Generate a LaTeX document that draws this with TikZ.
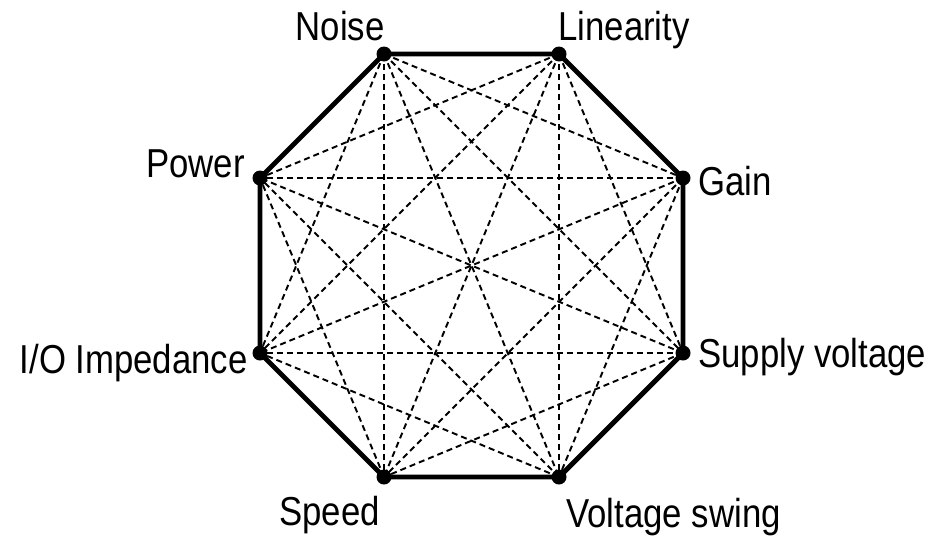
\documentclass[tikz,border=0pt]{standalone}
\usepackage{fontspec}
\newfontfamily\lblfont[FakeStretch=0.86]{Liberation Sans}
\usepackage{tikz}
\usetikzlibrary{positioning}

\begin{document}
\begin{tikzpicture}[
  x=0.02cm, y=-0.02cm,
  vtx/.style={circle, fill=black, inner sep=0pt, minimum size=0.3cm},
  lbl/.style={font=\lblfont\fontsize{23}{27}\selectfont, inner sep=0pt},
  edge/.style={line width=2.8pt, line join=miter},
  link/.style={line width=1.1pt, dash pattern=on 0.12cm off 0.08cm}
]
  \useasboundingbox (0,0) rectangle (935,538);

  % corners of the octagon
  \coordinate (noise)  at (384,54);
  \coordinate (lin)    at (559,54);
  \coordinate (gain)   at (683,178);
  \coordinate (supply) at (683,353);
  \coordinate (swing)  at (559,477);
  \coordinate (speed)  at (384,477);
  \coordinate (io)     at (260,353);
  \coordinate (power)  at (260,178);

  % every pair that is not a side
  \foreach \a/\b in {noise/gain, noise/supply, noise/swing, noise/speed, noise/io,
                     lin/supply, lin/swing, lin/speed, lin/io, lin/power,
                     gain/swing, gain/speed, gain/io, gain/power,
                     supply/speed, supply/io, supply/power,
                     swing/io, swing/power,
                     speed/power}
    \draw[link] (\a) -- (\b);

  \draw[edge] (noise) -- (lin) -- (gain) -- (supply) -- (swing)
              -- (speed) -- (io) -- (power) -- cycle;

  \node[vtx] (dnoise)  at (noise)  {};
  \node[vtx] (dlin)    at (lin)    {};
  \node[vtx] (dgain)   at (gain)   {};
  \node[vtx] (dsupply) at (supply) {};
  \node[vtx] (dswing)  at (swing)  {};
  \node[vtx] (dspeed)  at (speed)  {};
  \node[vtx] (dio)     at (io)     {};
  \node[vtx] (dpower)  at (power)  {};

  \node[lbl, anchor=base east] (tnoise)  at (385,40)  {Noise};
  \node[lbl, anchor=base west] (tlin)    at (558,40)  {Linearity};
  \node[lbl, anchor=base west] (tgain)   at (698,195) {Gain};
  \node[lbl, anchor=base west] (tsupply) at (698,367) {Supply voltage};
  \node[lbl, anchor=base west] (tswing)  at (566,527) {Voltage swing};
  \node[lbl, anchor=base west] (tspeed)  at (279,525) {Speed};
  \node[lbl, anchor=base east] (tio)     at (248,373) {I/O Impedance};
  \node[lbl, anchor=base east] (tpower)  at (245,177) {Power};
\end{tikzpicture}
\end{document}
